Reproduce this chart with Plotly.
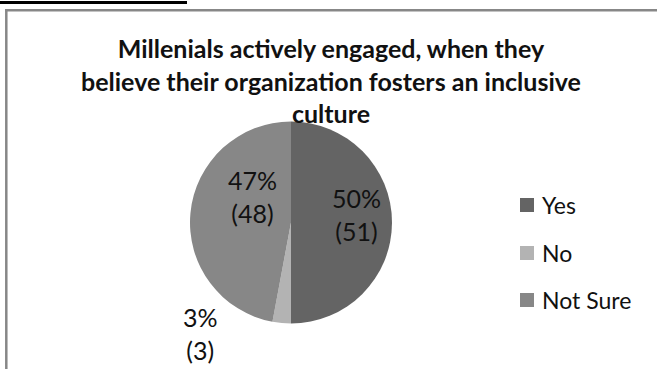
import plotly.graph_objects as go

# Survey answers and counts
categories = ["Yes", "No", "Not Sure"]
counts = [51, 3, 48]
title_lines = [
    "Millenials actively engaged, when they",
    "believe their organization fosters an inclusive",
    "culture",
]

colors = ["#646464", "#b3b3b3", "#878787"]
W, H = 657, 369
FONT = "Lato, Calibri, Arial, sans-serif"


def px(x):
    return x / W


def py(y):
    return 1 - y / H


# pie geometry (pixels)
cx, cy, r = 291, 222.5, 101

fig = go.Figure(
    go.Pie(
        labels=categories,
        values=counts,
        sort=False,
        direction="clockwise",
        rotation=0,
        marker=dict(colors=colors, line=dict(width=0)),
        textinfo="none",
        hoverinfo="label+value+percent",
        showlegend=False,
        domain=dict(x=[px(cx - r), px(cx + r)], y=[py(cy + r), py(cy - r)]),
    )
)

total = sum(counts)
label_pos = [(356, 215), (200, 333), (252.5, 196)]
annotations = [
    dict(
        text="<b>" + "<br>".join(title_lines) + "</b>",
        x=px(331), y=py(80), xref="paper", yref="paper",
        xanchor="center", yanchor="middle", showarrow=False,
        font=dict(family=FONT, size=25, color="#111111"),
    )
]
for cat, v, (lx, ly) in zip(categories, counts, label_pos):
    annotations.append(
        dict(
            text=f"{round(v / total * 100)}%<br>({v})",
            x=px(lx), y=py(ly), xref="paper", yref="paper",
            xanchor="center", yanchor="middle", showarrow=False,
            font=dict(family=FONT, size=25, color="#111111"),
        )
    )

# legend drawn as swatches with labels
shapes = [
    dict(type="line", xref="paper", yref="paper", x0=0, x1=px(187),
         y0=py(2.5), y1=py(2.5), line=dict(color="#000000", width=3)),
    dict(type="line", xref="paper", yref="paper", x0=px(5), x1=1,
         y0=py(10.3), y1=py(10.3), line=dict(color="#878787", width=2.5)),
    dict(type="line", xref="paper", yref="paper", x0=px(6.3), x1=px(6.3),
         y0=py(10.3), y1=0, line=dict(color="#878787", width=2.5)),
]
leg_y = [205, 253, 300]
for cat, col, ly in zip(categories, colors, leg_y):
    shapes.append(dict(type="rect", xref="paper", yref="paper",
                       x0=px(520), x1=px(534), y0=py(ly + 7), y1=py(ly - 7),
                       fillcolor=col, line=dict(width=0)))
    annotations.append(dict(text=cat, x=px(540), y=py(ly), xref="paper", yref="paper",
                            xanchor="left", yanchor="middle", showarrow=False,
                            font=dict(family=FONT, size=23, color="#111111")))

fig.update_layout(
    width=W, height=H,
    margin=dict(l=0, r=0, t=0, b=0),
    paper_bgcolor="white", plot_bgcolor="white",
    shapes=shapes,
    annotations=annotations,
)

fig.write_html("out.html")
